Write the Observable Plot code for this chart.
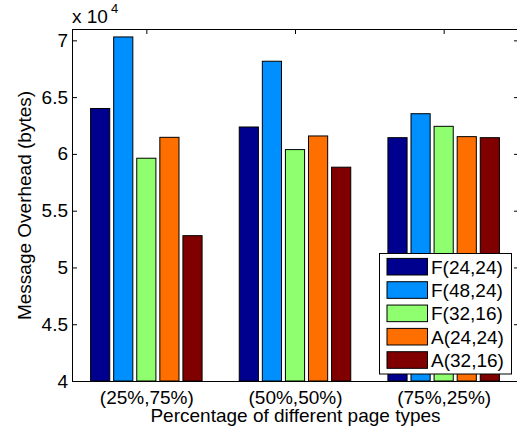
<!DOCTYPE html>
<html>
<head>
<meta charset="utf-8">
<script src="https://cdn.jsdelivr.net/npm/d3@7"></script>
<script src="https://cdn.jsdelivr.net/npm/@observablehq/plot@0.6"></script>
<style>
  html, body { margin: 0; padding: 0; background: #fff; }
  #chart { position: relative; width: 517px; height: 431px; overflow: hidden; }
</style>
</head>
<body>
<div id="chart"></div>
<script>
// Page-type mixes (x groups) and the five configurations (bar series)
const groups = ["(25%,75%)", "(50%,50%)", "(75%,25%)"];
const series = ["F(24,24)", "F(48,24)", "F(32,16)", "A(24,24)", "A(32,16)"];
const seriesColors = ["#00008f", "#008fff", "#8fff6f", "#ff6f00", "#800000"];

// Message overhead in bytes, one value per page-type mix
const f2424 = [64000, 62370, 61430];
const f4824 = [70300, 68160, 63540];
const f3216 = [59620, 60380, 62430];
const a2424 = [61460, 61580, 61520];
const a3216 = [52800, 58830, 61430];

const yTicks = [40000, 45000, 50000, 55000, 60000, 65000, 70000];
const yDomain = [40000, 71000];
const groupTicks = [1, 2, 3];

const seriesValues = [f2424, f4824, f3216, a2424, a3216];
const rows = groups.flatMap((g, gi) =>
  series.map((s, si) => ({group: gi + 1, series: s, value: seriesValues[si][gi]}))
);

// position of each bar inside its group, in x-data units around the group centre
const slot = d3.scaleBand().domain(series).range([-0.375, 0.375]).paddingInner(0.17);

const font = '"Liberation Sans", Arial, Helvetica, sans-serif';

const plot = Plot.plot({
  width: 517,
  height: 431,
  marginLeft: 72,
  marginRight: -1,
  marginTop: 29,
  marginBottom: 50,
  style: {fontFamily: font, fontSize: "19px", color: "#000", background: "#fff"},
  x: {type: "linear", domain: [0.5, 3.5], label: null},
  y: {domain: yDomain, label: null},
  color: {domain: series, range: seriesColors},
  marks: [
    Plot.rectY(rows, {
      x1: d => d.group + slot(d.series),
      x2: d => d.group + slot(d.series) + slot.bandwidth(),
      y1: yDomain[0],
      y2: "value",
      fill: "series",
      stroke: "#000",
      strokeWidth: 1
    }),
    Plot.frame({stroke: "#000"}),
    Plot.axisY(yTicks, {anchor: "left", tickSize: -5, tickPadding: 9.5, tickFormat: d => d / 1e4, label: null}),
    Plot.axisY(yTicks, {anchor: "right", tickSize: -5, tickFormat: () => "", label: null}),
    Plot.axisX(groupTicks, {anchor: "top", tickSize: -4, tickFormat: () => "", label: null}),
    Plot.axisX(groupTicks, {anchor: "bottom", tickSize: 0, tickPadding: 9, tickFormat: i => groups[i - 1], label: null}),
    Plot.text(["Percentage of different page types"], {
      frameAnchor: "bottom", textAnchor: "middle", lineAnchor: "middle", dy: 34.8, text: d => d
    }),
    Plot.text(["Message Overhead (bytes)"], {
      frameAnchor: "left", textAnchor: "middle", lineAnchor: "middle", rotate: -90, dx: -47.4, text: d => d
    })
  ]
});

const svg = d3.select(plot);

// exponent note above the y axis
const expo = svg.append("text")
  .attr("x", 72).attr("y", 22.5).attr("text-anchor", "start")
  .attr("font-family", font).attr("font-size", 19).attr("fill", "#000");
expo.append("tspan").text("x 10");
expo.append("tspan").attr("dx", 3).attr("dy", -10).attr("font-size", 13).text("4");

// boxed legend in the lower right of the axes
const legend = svg.append("g")
  .attr("font-family", font).attr("font-size", 19).attr("text-anchor", "start");
const box = {x: 379.5, y: 253.5, w: 132, h: 120.5};
const rowTop = 266.7, rowStep = 23.33;
legend.append("rect")
  .attr("x", box.x).attr("y", box.y).attr("width", box.w).attr("height", box.h)
  .attr("fill", "#fff").attr("stroke", "#000");
series.forEach((s, i) => {
  const cy = rowTop + i * rowStep;
  legend.append("rect")
    .attr("x", 387).attr("y", cy - 8.3).attr("width", 40.5).attr("height", 16.6)
    .attr("fill", seriesColors[i]).attr("stroke", "#000");
  legend.append("text")
    .attr("x", 431).attr("y", cy).attr("dy", "0.36em").attr("fill", "#000").text(s);
});

document.getElementById("chart").appendChild(plot);
</script>
</body>
</html>
